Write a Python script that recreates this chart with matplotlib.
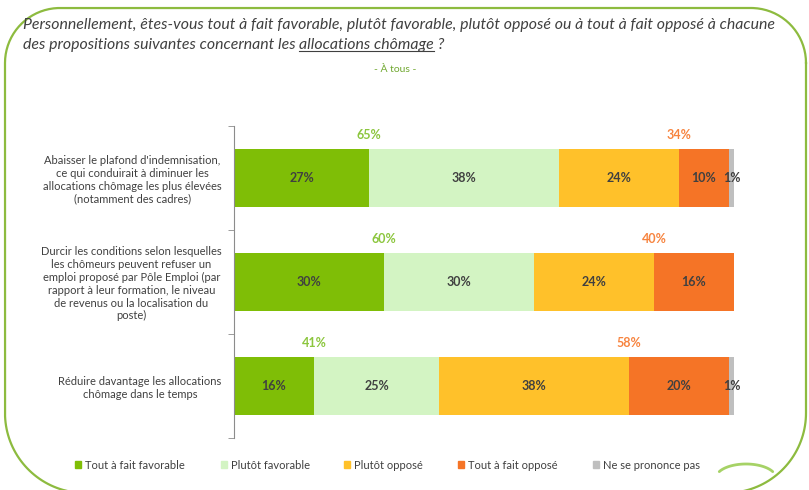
import numpy as np
import matplotlib
matplotlib.use("Agg")
import matplotlib.pyplot as plt
from matplotlib.patches import Rectangle

plt.rcParams['font.family'] = ['Lato', 'DejaVu Sans']

# Données
propositions = [
    "Abaisser le plafond d'indemnisation,\nce qui conduirait à diminuer les\nallocations chômage les plus élevées\n(notamment des cadres)",
    "Durcir les conditions selon lesquelles\nles chômeurs peuvent refuser un\nemploi proposé par Pôle Emploi (par\nrapport à leur formation, le niveau\nde revenus ou la localisation du\nposte)",
    "Réduire davantage les allocations\nchômage dans le temps",
]
series_names = ["Tout à fait favorable", "Plutôt favorable", "Plutôt opposé",
                "Tout à fait opposé", "Ne se prononce pas"]
tout_favorable = [27, 30, 16]
plutot_favorable = [38, 30, 25]
plutot_oppose = [24, 24, 38]
tout_oppose = [10, 16, 20]
nsp = [1, 0, 1]
total_favorable = [65, 60, 41]
total_oppose = [34, 40, 58]

colors = ["#7fbe06", "#d3f4c3", "#ffc12a", "#f57426", "#bfbfbf"]
txt_col = "#404040"

fig = plt.figure(figsize=(8.09, 4.90), dpi=100)

# cadre décoratif (coordonnées pixels)
bg = fig.add_axes([0, 0, 1, 1])
bg.set_xlim(0, 809)
bg.set_ylim(490, 0)
bg.axis('off')

def corner(cx, cy, r, a0, a1):
    t = np.linspace(np.radians(a0), np.radians(a1), 40)
    return cx + r * np.cos(t), cy - r * np.sin(t)

left, right, top, bottom = 5, 806, 8, 493
rt, rb = 55, 80
xs, ys = [], []
for cx, cy, r, a0, a1 in [(right - rt, top + rt, rt, 0, 90),
                          (left + rt, top + rt, rt, 90, 180),
                          (left + rb, bottom - rb, rb, 180, 270),
                          (right - rb, bottom - rb, rb, 270, 360)]:
    x, y = corner(cx, cy, r, a0, a1)
    xs.extend(x); ys.extend(y)
xs.append(xs[0]); ys.append(ys[0])
bg.plot(xs, ys, color="#8dbb3f", lw=1.6, clip_on=False)
# petite virgule verte
t = np.linspace(0.15, 0.85, 40) * np.pi
bg.plot(746 - 30 * np.cos(t), 478 - 14 * np.sin(t), color="#a6d266", lw=2.0,
        solid_capstyle='round')

# titre
title_fs = 11.4
fig.text(23 / 809, 1 - 25 / 490,
         "Personnellement, êtes-vous tout à fait favorable, plutôt favorable, plutôt opposé ou à tout à fait opposé à chacune",
         fontsize=title_fs, style='italic', color=txt_col, va='center', ha='left')
t1 = fig.text(23 / 809, 1 - 45 / 490, "des propositions suivantes concernant les ",
              fontsize=title_fs, style='italic', color=txt_col, va='center', ha='left')
fig.canvas.draw()
r = fig.canvas.get_renderer()
bb = t1.get_window_extent(r)
t2 = fig.text(bb.x1 / 809, 1 - 45 / 490, "allocations chômage",
              fontsize=title_fs, style='italic', color=txt_col, va='center', ha='left')
bb2 = t2.get_window_extent(r)
fig.text(bb2.x1 / 809, 1 - 45 / 490, " ?", fontsize=title_fs, style='italic',
         color=txt_col, va='center', ha='left')
bg.plot([bb2.x0, bb2.x1], [490 - bb2.y0 - 1, 490 - bb2.y0 - 1], color=txt_col, lw=0.8)
fig.text(395 / 809, 1 - 70 / 490, "- À tous -", fontsize=7.5, color="#70a830",
         ha='center', va='center')

# graphique
ax = fig.add_axes([234 / 809, 52 / 490, 500 / 809, 312 / 490])
y = np.arange(len(propositions))
data = [tout_favorable, plutot_favorable, plutot_oppose, tout_oppose, nsp]
start = np.zeros(len(propositions))
for vals, col, name in zip(data, colors, series_names):
    vals = np.array(vals, dtype=float)
    ax.barh(y, vals, left=start, height=0.56, color=col, label=name)
    for yi, v, s in zip(y, vals, start):
        if v > 0:
            ax.text(s + v / 2, yi, f"{int(v)}%", ha='center', va='center',
                    fontsize=9, fontweight='bold', color=txt_col)
    start += vals

for yi in y:
    ax.text(tout_favorable[yi], yi - 0.41, f"{total_favorable[yi]}%", ha='center',
            va='center', fontsize=9, fontweight='bold', color="#8cc63e")
    pos = tout_favorable[yi] + plutot_favorable[yi] + plutot_oppose[yi]
    ax.text(pos, yi - 0.41, f"{total_oppose[yi]}%", ha='center', va='center',
            fontsize=9, fontweight='bold', color="#f7843f")

ax.set_xlim(0, 100)
ax.set_ylim(2.5, -0.5)
ax.set_xticks([])
ax.set_yticks(y)
ax.set_yticklabels(propositions, fontsize=8, color=txt_col, multialignment='center')
ax.tick_params(axis='y', which='major', length=0, pad=9)
ax.set_yticks([-0.5, 0.5, 1.5, 2.5], minor=True)
ax.tick_params(axis='y', which='minor', length=4, color="#8c8c8c", direction='out')
for s in ['top', 'right', 'bottom']:
    ax.spines[s].set_visible(False)
ax.spines['left'].set_color("#8c8c8c")
ax.patch.set_alpha(0)

# légende
leg_x = [75, 221, 344, 458, 593]
for lx, col, name in zip(leg_x, colors, series_names):
    bg.add_patch(Rectangle((lx, 461), 6, 7, color=col))
    bg.text(lx + 10, 465, name, fontsize=8, color=txt_col, va='center', ha='left')

fig.savefig("out.png", dpi=100)
